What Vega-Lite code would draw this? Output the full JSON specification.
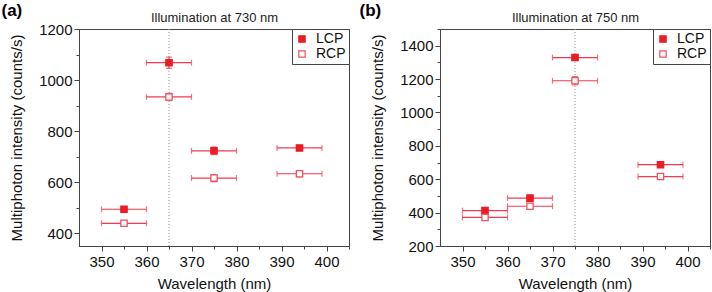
{
  "$schema": "https://vega.github.io/schema/vega-lite/v6.json",
  "autosize": {"type": "pad"},
  "padding": {"left": 0, "top": 0, "right": 0, "bottom": 0},
  "background": "white",
  "config": {
    "font": "Liberation Sans",
    "view": {"stroke": "#444", "strokeWidth": 1},
    "axis": {"domainColor": "#444", "tickColor": "#444", "labelColor": "#111", "titleColor": "#111", "grid": false, "titleFontWeight": "normal", "format": "d"}
  },
  "datasets": {
    "a": [
      {"wl": 355, "val": 494, "xlo": 350, "xhi": 360, "ylo": 488, "yhi": 500, "pol": "LCP"},
      {"wl": 365, "val": 1068, "xlo": 360, "xhi": 370, "ylo": 1046, "yhi": 1090, "pol": "LCP"},
      {"wl": 375, "val": 723, "xlo": 370, "xhi": 380, "ylo": 708, "yhi": 738, "pol": "LCP"},
      {"wl": 394, "val": 734, "xlo": 389, "xhi": 399, "ylo": 726, "yhi": 742, "pol": "LCP"},
      {"wl": 355, "val": 439, "xlo": 350, "xhi": 360, "ylo": 434, "yhi": 444, "pol": "RCP"},
      {"wl": 365, "val": 934, "xlo": 360, "xhi": 370, "ylo": 920, "yhi": 948, "pol": "RCP"},
      {"wl": 375, "val": 616, "xlo": 370, "xhi": 380, "ylo": 602, "yhi": 630, "pol": "RCP"},
      {"wl": 394, "val": 633, "xlo": 389, "xhi": 399, "ylo": 621, "yhi": 645, "pol": "RCP"}
    ],
    "b": [
      {"wl": 355, "val": 412, "xlo": 350, "xhi": 360, "ylo": 406, "yhi": 418, "pol": "LCP"},
      {"wl": 365, "val": 487, "xlo": 360, "xhi": 370, "ylo": 479, "yhi": 495, "pol": "LCP"},
      {"wl": 375, "val": 1329, "xlo": 370, "xhi": 380, "ylo": 1319, "yhi": 1339, "pol": "LCP"},
      {"wl": 394, "val": 687, "xlo": 389, "xhi": 399, "ylo": 679, "yhi": 695, "pol": "LCP"},
      {"wl": 355, "val": 371, "xlo": 350, "xhi": 360, "ylo": 365, "yhi": 377, "pol": "RCP"},
      {"wl": 365, "val": 438, "xlo": 360, "xhi": 370, "ylo": 432, "yhi": 444, "pol": "RCP"},
      {"wl": 375, "val": 1190, "xlo": 370, "xhi": 380, "ylo": 1165, "yhi": 1215, "pol": "RCP"},
      {"wl": 394, "val": 616, "xlo": 389, "xhi": 399, "ylo": 610, "yhi": 622, "pol": "RCP"}
    ]
  },
  "hconcat": [
    {
      "width": 270,
      "height": 217,
      "data": {"name": "a"},
      "resolve": {"axis": {"x": "independent", "y": "independent"}},
      "layer": [
        {
          "data": {"values": [{"xv": 365}]},
          "mark": {"type": "rule", "color": "#999", "strokeDash": [1, 2], "strokeWidth": 1},
          "encoding": {
            "x": {"field": "xv", "type": "quantitative", "scale": {"domain": [345, 405], "nice": false, "zero": false},
              "axis": {"orient": "top", "labels": false, "ticks": false, "domain": false, "title": "Illumination at 730 nm", "titleFontSize": 13, "titleY": -8, "titleBaseline": "alphabetic", "titleColor": "#222"}}
          }
        },
        {
          "mark": {"type": "rule", "color": "#f03a52", "strokeWidth": 1.2},
          "encoding": {
            "x": {"field": "xlo", "type": "quantitative", "axis": {"values": [355, 365, 375, 385, 395, 405], "labels": false, "domain": false, "tickSize": 3, "title": null}},
            "x2": {"field": "xhi"},
            "y": {"field": "val", "type": "quantitative", "axis": {"values": [500, 700, 900, 1100], "labels": false, "domain": false, "tickSize": 3, "title": null}}
          }
        },
        {
          "mark": {"type": "rule", "color": "#f03a52", "strokeWidth": 1.2},
          "encoding": {
            "x": {"field": "wl", "type": "quantitative", "axis": null},
            "y": {"field": "ylo", "type": "quantitative", "axis": {"orient": "right", "labels": false, "ticks": false, "domain": false, "title": "(a)", "titleAngle": 0, "titleX": -348, "titleY": -14, "titleAlign": "left", "titleBaseline": "alphabetic", "titleFontSize": 17, "titleFontWeight": "bold", "titleColor": "#000"}},
            "y2": {"field": "yhi"}
          }
        },
        {
          "mark": {"type": "tick", "orient": "vertical", "color": "#f03a52", "size": 6, "thickness": 1.2},
          "encoding": {"x": {"field": "xlo", "type": "quantitative", "axis": null}, "y": {"field": "val", "type": "quantitative", "axis": null}}
        },
        {
          "mark": {"type": "tick", "orient": "vertical", "color": "#f03a52", "size": 6, "thickness": 1.2},
          "encoding": {"x": {"field": "xhi", "type": "quantitative", "axis": null}, "y": {"field": "val", "type": "quantitative", "axis": null}}
        },
        {
          "mark": {"type": "tick", "orient": "horizontal", "color": "#f03a52", "size": 6, "thickness": 1.2},
          "encoding": {"x": {"field": "wl", "type": "quantitative", "axis": null}, "y": {"field": "ylo", "type": "quantitative", "axis": null}}
        },
        {
          "mark": {"type": "tick", "orient": "horizontal", "color": "#f03a52", "size": 6, "thickness": 1.2},
          "encoding": {"x": {"field": "wl", "type": "quantitative", "axis": null}, "y": {"field": "yhi", "type": "quantitative", "axis": null}}
        },
        {
          "mark": {"type": "point", "shape": "square", "size": 40, "opacity": 1, "strokeWidth": 1.3},
          "encoding": {
            "x": {"field": "wl", "type": "quantitative", "scale": {"domain": [345, 405], "nice": false, "zero": false},
              "axis": {"values": [350, 360, 370, 380, 390, 400], "tickSize": 5, "labelFontSize": 15, "labelPadding": 3, "title": "Wavelength (nm)", "titleFontSize": 15, "titleY": 42, "titleBaseline": "alphabetic"}},
            "y": {"field": "val", "type": "quantitative", "scale": {"domain": [350, 1200], "nice": false, "zero": false},
              "axis": {"values": [400, 600, 800, 1000, 1200], "tickSize": 5, "labelFontSize": 15, "labelPadding": 2, "title": "Multiphoton intensity (counts/s)", "titleFontSize": 15, "titleX": -58, "titleY": 108.5, "titleBaseline": "alphabetic"}},
            "fill": {"field": "pol", "type": "nominal", "scale": {"domain": ["LCP", "RCP"], "range": ["#ec1b24", "#ffffff"]},
              "legend": {"title": null, "orient": "top-right", "offset": 0, "strokeColor": "#444", "fillColor": "white", "padding": 3, "rowPadding": 1, "labelFontSize": 14, "labelColor": "#111", "symbolType": "square", "symbolSize": 40, "symbolStrokeWidth": 1.2, "labelOffset": 7}},
            "stroke": {"field": "pol", "type": "nominal", "scale": {"domain": ["LCP", "RCP"], "range": ["#ec1b24", "#f0505f"]},
              "legend": {"title": null, "orient": "top-right", "offset": 0, "strokeColor": "#444", "fillColor": "white", "padding": 3, "rowPadding": 1, "labelFontSize": 14, "labelColor": "#111", "symbolType": "square", "symbolSize": 40, "symbolStrokeWidth": 1.2, "labelOffset": 7}}
          }
        }
      ]
    },
    {
      "width": 270,
      "height": 217,
      "data": {"name": "b"},
      "resolve": {"axis": {"x": "independent", "y": "independent"}},
      "layer": [
        {
          "data": {"values": [{"xv": 375}]},
          "mark": {"type": "rule", "color": "#999", "strokeDash": [1, 2], "strokeWidth": 1},
          "encoding": {
            "x": {"field": "xv", "type": "quantitative", "scale": {"domain": [345, 405], "nice": false, "zero": false},
              "axis": {"orient": "top", "labels": false, "ticks": false, "domain": false, "title": "Illumination at 750 nm", "titleFontSize": 13, "titleY": -8, "titleBaseline": "alphabetic", "titleColor": "#222"}}
          }
        },
        {
          "mark": {"type": "rule", "color": "#f03a52", "strokeWidth": 1.2},
          "encoding": {
            "x": {"field": "xlo", "type": "quantitative", "axis": {"values": [355, 365, 375, 385, 395, 405], "labels": false, "domain": false, "tickSize": 3, "title": null}},
            "x2": {"field": "xhi"},
            "y": {"field": "val", "type": "quantitative", "axis": {"values": [300, 500, 700, 900, 1100, 1300, 1500], "labels": false, "domain": false, "tickSize": 3, "title": null}}
          }
        },
        {
          "mark": {"type": "rule", "color": "#f03a52", "strokeWidth": 1.2},
          "encoding": {
            "x": {"field": "wl", "type": "quantitative", "axis": null},
            "y": {"field": "ylo", "type": "quantitative", "axis": {"orient": "right", "labels": false, "ticks": false, "domain": false, "title": "(b)", "titleAngle": 0, "titleX": -351, "titleY": -14, "titleAlign": "left", "titleBaseline": "alphabetic", "titleFontSize": 17, "titleFontWeight": "bold", "titleColor": "#000"}},
            "y2": {"field": "yhi"}
          }
        },
        {
          "mark": {"type": "tick", "orient": "vertical", "color": "#f03a52", "size": 6, "thickness": 1.2},
          "encoding": {"x": {"field": "xlo", "type": "quantitative", "axis": null}, "y": {"field": "val", "type": "quantitative", "axis": null}}
        },
        {
          "mark": {"type": "tick", "orient": "vertical", "color": "#f03a52", "size": 6, "thickness": 1.2},
          "encoding": {"x": {"field": "xhi", "type": "quantitative", "axis": null}, "y": {"field": "val", "type": "quantitative", "axis": null}}
        },
        {
          "mark": {"type": "tick", "orient": "horizontal", "color": "#f03a52", "size": 6, "thickness": 1.2},
          "encoding": {"x": {"field": "wl", "type": "quantitative", "axis": null}, "y": {"field": "ylo", "type": "quantitative", "axis": null}}
        },
        {
          "mark": {"type": "tick", "orient": "horizontal", "color": "#f03a52", "size": 6, "thickness": 1.2},
          "encoding": {"x": {"field": "wl", "type": "quantitative", "axis": null}, "y": {"field": "yhi", "type": "quantitative", "axis": null}}
        },
        {
          "mark": {"type": "point", "shape": "square", "size": 40, "opacity": 1, "strokeWidth": 1.3},
          "encoding": {
            "x": {"field": "wl", "type": "quantitative", "scale": {"domain": [345, 405], "nice": false, "zero": false},
              "axis": {"values": [350, 360, 370, 380, 390, 400], "tickSize": 5, "labelFontSize": 15, "labelPadding": 3, "title": "Wavelength (nm)", "titleFontSize": 15, "titleY": 42, "titleBaseline": "alphabetic"}},
            "y": {"field": "val", "type": "quantitative", "scale": {"domain": [200, 1500], "nice": false, "zero": false},
              "axis": {"values": [200, 400, 600, 800, 1000, 1200, 1400], "tickSize": 5, "labelFontSize": 15, "labelPadding": 2, "title": "Multiphoton intensity (counts/s)", "titleFontSize": 15, "titleX": -58, "titleY": 108.5, "titleBaseline": "alphabetic"}},
            "fill": {"field": "pol", "type": "nominal", "scale": {"domain": ["LCP", "RCP"], "range": ["#ec1b24", "#ffffff"]},
              "legend": {"title": null, "orient": "top-right", "offset": 0, "strokeColor": "#444", "fillColor": "white", "padding": 3, "rowPadding": 1, "labelFontSize": 14, "labelColor": "#111", "symbolType": "square", "symbolSize": 40, "symbolStrokeWidth": 1.2, "labelOffset": 7}},
            "stroke": {"field": "pol", "type": "nominal", "scale": {"domain": ["LCP", "RCP"], "range": ["#ec1b24", "#f0505f"]},
              "legend": {"title": null, "orient": "top-right", "offset": 0, "strokeColor": "#444", "fillColor": "white", "padding": 3, "rowPadding": 1, "labelFontSize": 14, "labelColor": "#111", "symbolType": "square", "symbolSize": 40, "symbolStrokeWidth": 1.2, "labelOffset": 7}}
          }
        }
      ]
    }
  ],
  "spacing": 91,
  "bounds": "flush",
  "resolve": {"scale": {"x": "independent", "y": "independent", "fill": "independent", "stroke": "independent"}, "legend": {"fill": "independent", "stroke": "independent"}}
}
